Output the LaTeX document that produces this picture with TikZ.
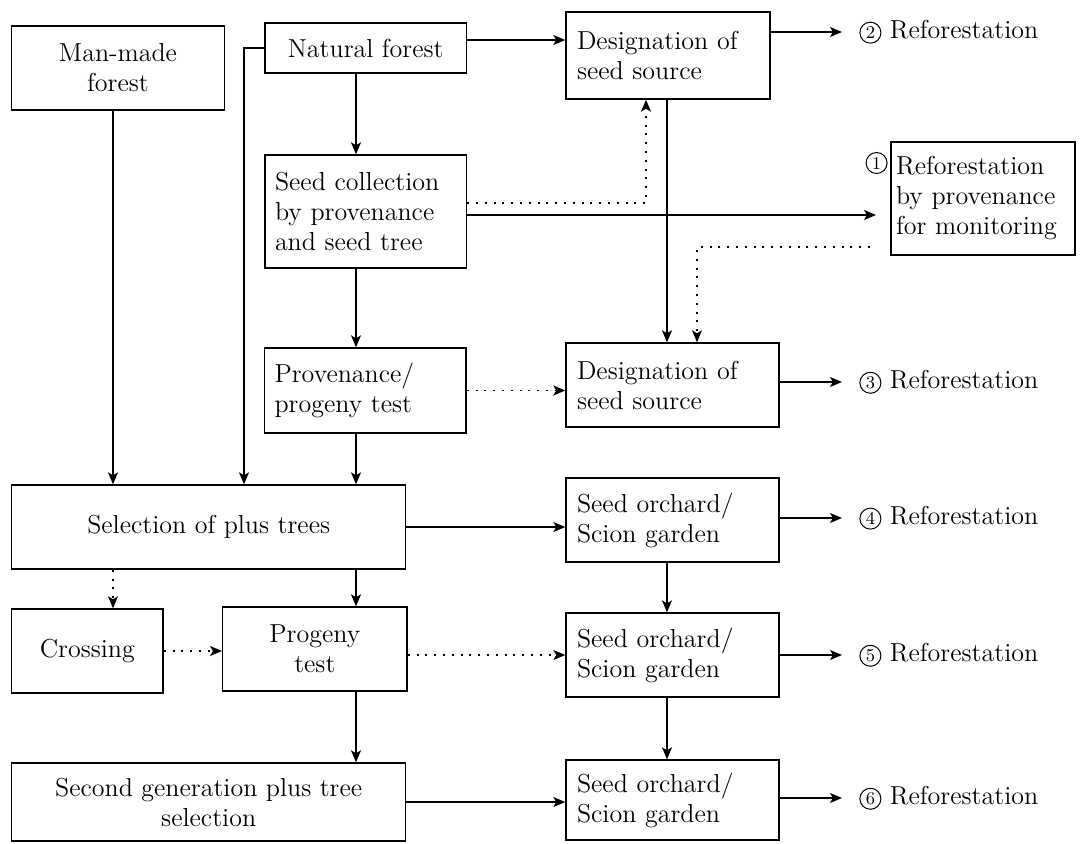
\documentclass[tikz,border=0pt]{standalone}
\usetikzlibrary{arrows.meta}
\newcommand\circnum[1]{\tikz[baseline=(cn.base)]\node[draw, circle, line width=0.5pt, inner sep=0.7pt, minimum size=10.5pt, font=\fontsize{9}{9}\selectfont] (cn) {#1};}
\tikzset{
  box/.style={draw, line width=0.7pt, inner sep=0pt, align=center},
  lbox/.style={draw, line width=0.7pt, inner ysep=0pt, align=left},
  arr/.style={line width=0.7pt, -{Stealth[length=6pt,width=5pt,inset=1.5pt]}},
  dotarr/.style={arr, dash pattern=on 1pt off 3.4pt},
  reforest/.style={anchor=west, inner sep=1.5pt},
}
\begin{document}
\begin{tikzpicture}[x=0.5pt,y=-0.5pt,font=\fontsize{13}{15}\selectfont]
\useasboundingbox (0,0) rectangle (1089,843);
% columns for the vertical connectors
\coordinate (colM) at (113,0);
\coordinate (colB) at (244,0);
\coordinate (colA) at (356,0);
\coordinate (colD) at (646,0);
\coordinate (colR) at (667,0);
\coordinate (colE) at (697,0);
\coordinate (monin) at (876,215);
\coordinate (monout) at (870,247);
% left side
\node[box, minimum width=106.5pt, minimum height=42pt] (man) at (118,68) {Man-made\\forest};
\node[box, minimum width=100.75pt, minimum height=25pt] (nat) at (365.75,48) {Natural forest};
\node[lbox, text width=90.75pt, inner xsep=5pt, minimum height=56.5pt] (seedcol) at (365.75,211.5) {Seed collection\\by provenance\\and seed tree};
\node[lbox, text width=90.75pt, inner xsep=5pt, minimum height=42.5pt] (prov) at (365.25,390.5) {Provenance/\\progeny test};
\node[box, minimum width=197pt, minimum height=42pt] (sel) at (208.7,527) {Selection of plus trees};
\node[box, minimum width=75.7pt, minimum height=42pt] (cross) at (87.3,651) {Crossing};
\node[box, minimum width=92.15pt, minimum height=42pt] (prog) at (314.85,649) {Progeny\\test};
\node[box, minimum width=197pt, minimum height=39pt] (second) at (208.7,802) {Second generation plus tree\\selection};
% right side
\node[lbox, text width=91pt, inner xsep=5.5pt, minimum height=43.5pt] (des1) at (668,55.5) {Designation of\\seed source};
\node[lbox, text width=87pt, inner xsep=2.5pt, minimum height=56.5pt] (mon) at (983,198.5) {Reforestation\\by provenance\\for monitoring};
\node[inner sep=0pt, anchor=east] (c1) at (888,163) {\circnum{1}};
\node[lbox, text width=95.5pt, inner xsep=5.5pt, minimum height=42pt] (des2) at (672.5,385) {Designation of\\seed source};
\node[lbox, text width=95.5pt, inner xsep=5.5pt, minimum height=42pt] (orch1) at (672.5,520) {Seed orchard/\\Scion garden};
\node[lbox, text width=95.5pt, inner xsep=5.5pt, minimum height=42pt] (orch2) at (672.5,655) {Seed orchard/\\Scion garden};
\node[lbox, text width=95.5pt, inner xsep=5.5pt, minimum height=40pt] (orch3) at (672.5,800) {Seed orchard/\\Scion garden};
\node[reforest] (ref2) at (856,32) {\circnum{2} Reforestation};
\node[reforest] (ref3) at (856,382) {\circnum{3} Reforestation};
\node[reforest] (ref4) at (856,518) {\circnum{4} Reforestation};
\node[reforest] (ref5) at (856,655) {\circnum{5} Reforestation};
\node[reforest] (ref6) at (856,798) {\circnum{6} Reforestation};
% solid connectors
\draw[arr] (man.south -| colM) -- (sel.north -| colM);
\draw[arr] (nat.west) -| (sel.north -| colB);
\draw[arr] (nat.south -| colA) -- (seedcol.north -| colA);
\draw[arr] (seedcol.south -| colA) -- (prov.north -| colA);
\draw[arr] (prov.south -| colA) -- (sel.north -| colA);
\draw[arr] (sel.south -| colA) -- (prog.north -| colA);
\draw[arr] (prog.south -| colA) -- (second.north -| colA);
\draw[arr] ([yshift=4pt]nat.east) -- ([yshift=4pt]nat.east -| des1.west);
\draw[arr] ([yshift=-1.75pt]seedcol.east) -- (monin);
\draw[arr] (des1.south -| colR) -- (des2.north -| colR);
\draw[arr] (orch1.south -| colR) -- (orch2.north -| colR);
\draw[arr] (orch2.south -| colR) -- (orch3.north -| colR);
\draw[arr] (sel.east) -- (sel.east -| orch1.west);
\draw[arr] (second.east) -- (second.east -| orch3.west);
\draw[arr] (ref2.west -| des1.east) -- ([xshift=-7pt]ref2.west);
\draw[arr] (ref3.west -| des2.east) -- ([xshift=-7pt]ref3.west);
\draw[arr] (ref4.west -| orch1.east) -- ([xshift=-7pt]ref4.west);
\draw[arr] (ref5.west -| orch2.east) -- ([xshift=-7pt]ref5.west);
\draw[arr] (ref6.west -| orch3.east) -- ([xshift=-7pt]ref6.west);
% dotted connectors
\draw[dotarr] ([yshift=4.25pt]seedcol.east) -| (des1.south -| colD);
\draw[dotarr] (monout) -| (des2.north -| colE);
\draw[dotarr] (prov.east) -- (prov.east -| des2.west);
\draw[dotarr] (sel.south -| colM) -- (cross.north -| colM);
\draw[dotarr] (cross.east) -- (cross.east -| prog.west);
\draw[dotarr] (orch2.west -| prog.east) -- (orch2.west);
\end{tikzpicture}
\end{document}
